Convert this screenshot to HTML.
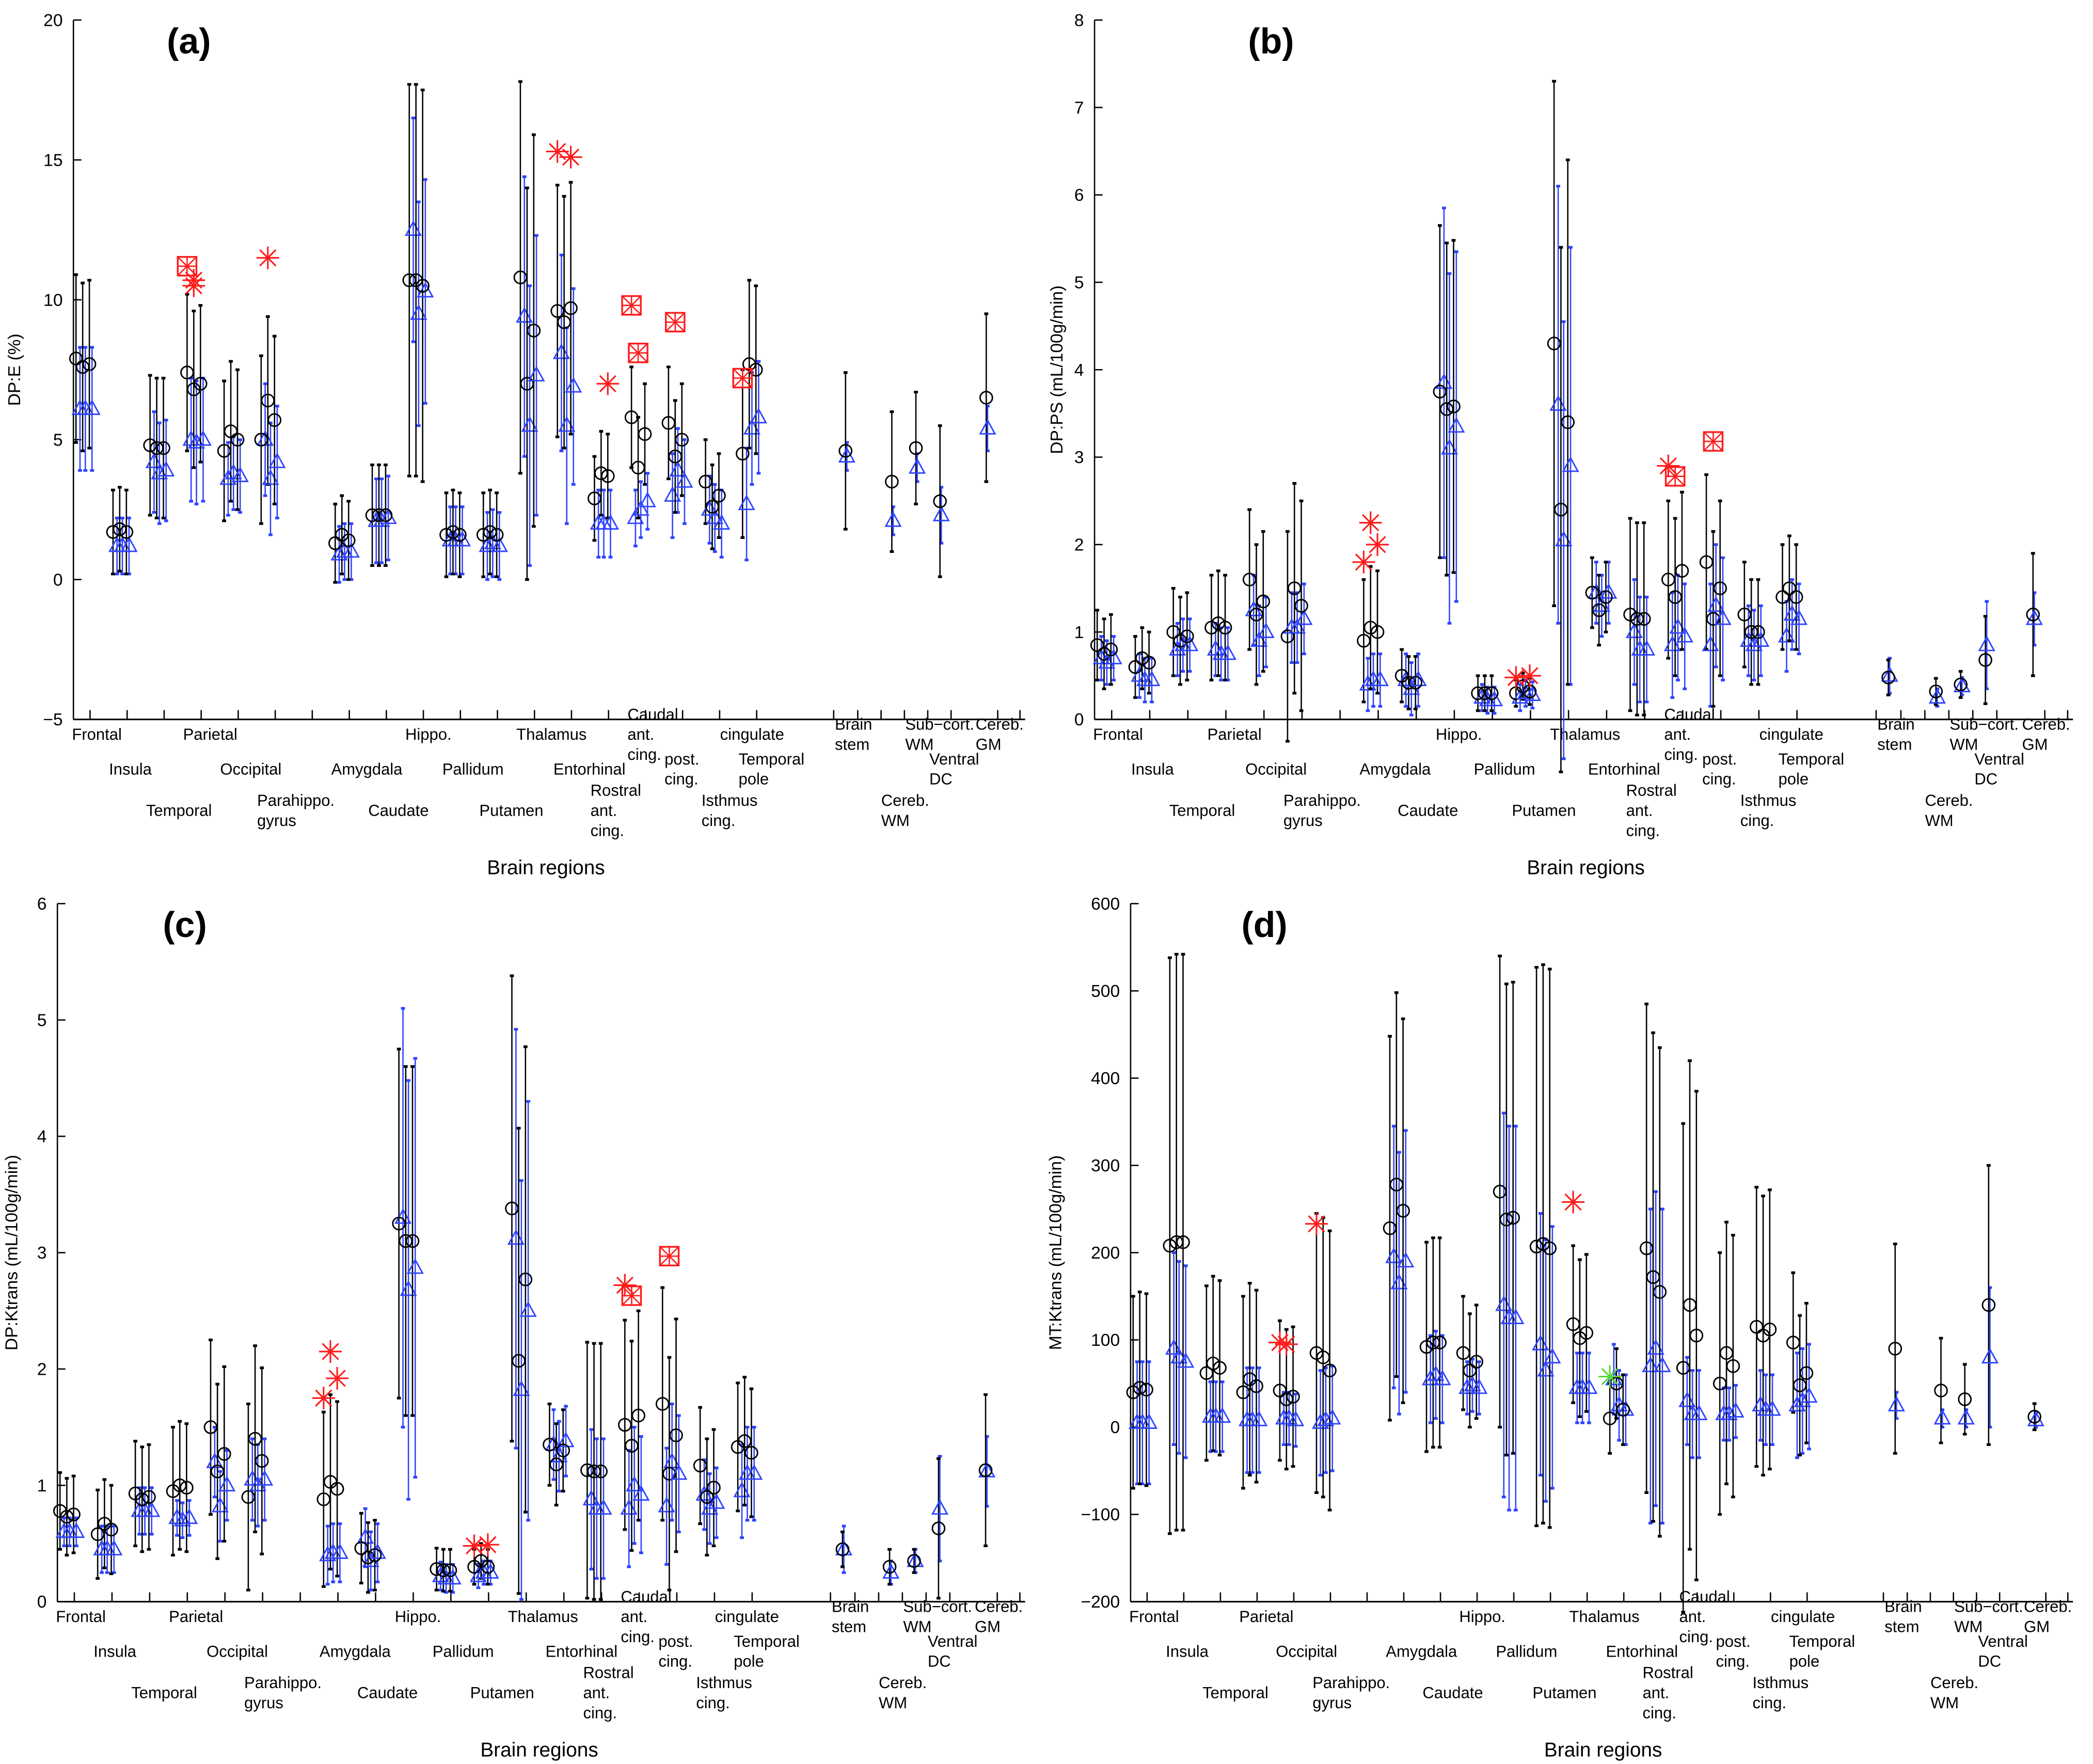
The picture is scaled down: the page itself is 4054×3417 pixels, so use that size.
<!DOCTYPE html>
<html><head><meta charset="utf-8"><style>
html,body{margin:0;padding:0;background:#fff}
svg{display:block}
text{font-family:"Liberation Sans",sans-serif}
</style></head><body>
<svg id="fig" xmlns="http://www.w3.org/2000/svg" width="4054" height="3417" viewBox="0 0 1568 1321.6"></svg>
<script>
const regions=["Frontal","Insula","Temporal","Parietal","Occipital","Parahippo","Amygdala","Caudate","Hippo","Pallidum","Putamen","Thalamus","Entorhinal","Rostral","Caudal","Post","Isthmus","TemporalPole","BrainStem","CerebWM","SubcortWM","VentralDC","CerebGM"];
const slots=[0,1,2,3,4,5,7,8,9,10,11,12,13,14,15,16,17,18,20.6,21.85,22.5,23.15,24.4];
const labelLines=[["Frontal"],["Insula"],["Temporal"],["Parietal"],["Occipital"],["Parahippo.","gyrus"],["Amygdala"],["Caudate"],["Hippo."],["Pallidum"],["Putamen"],["Thalamus"],["Entorhinal"],["Rostral","ant.","cing."],["Caudal","ant.","cing."],["post.","cing."],["Isthmus","cing."],["Temporal","pole"],["Brain","stem"],["Cereb.","WM"],["Sub\u2212cort.","WM"],["Ventral","DC"],["Cereb.","GM"]];
const labelRows=[0,1,2,0,1,2,1,2,0,1,2,0,1,2,0,1,2,1,0,2,0,1,0];
const tickSlots=[0.2,1.2,2.2,3.2,4.2,5.2,6.2,7.2,8.2,9.2,10.2,11.2,12.2,13.2,14.2,15.2,16.2,17.2,18.2,20.28,20.93,21.56,22.19,22.82,23.45,24.71,25.31];

// Panel (a) DP:E
const aCirc=[[7.9,7.6,7.7],[1.7,1.8,1.7],[4.8,4.7,4.7],[7.4,6.8,7.0],[4.6,5.3,5.0],[5.0,6.4,5.7],[1.3,1.6,1.4],[2.3,2.3,2.3],[10.7,10.7,10.5],[1.6,1.7,1.6],[1.6,1.7,1.6],[10.8,7.0,8.9],[9.6,9.2,9.7],[2.9,3.8,3.7],[5.8,4.0,5.2],[5.6,4.4,5.0],[3.5,2.6,3.0],[4.5,7.7,7.5],[4.6],[3.5],[4.7],[2.8],[6.5]];
const aTri=[[6.1,6.1,6.1],[1.2,1.2,1.2],[4.2,3.8,3.9],[5.0,4.9,5.0],[3.6,3.8,3.7],[5.0,3.6,4.2],[0.9,1.0,1.0],[2.1,2.1,2.2],[12.5,9.5,10.3],[1.4,1.4,1.4],[1.2,1.3,1.2],[9.4,5.5,7.3],[8.1,5.5,6.9],[2.0,2.0,2.0],[2.2,2.5,2.8],[3.0,3.9,3.5],[2.5,2.2,2.0],[2.7,5.4,5.8],[4.4],[2.1],[4.0],[2.3],[5.4]];
const aCircErr=[3,1.5,2.5,2.8,2.5,3,1.4,1.8,7,1.5,1.5,7,4.5,1.5,1.8,2,1.5,3,2.8,2.5,2,2.7,3];
const aTriErr=[2.2,1,1.8,2.2,1.3,2,1,1.5,4,1.2,1.2,5,3.5,1.2,1,1.5,1.2,2,0.5,0.5,0.5,1,0.8];
const aMarkRegion=[3,3,3,5,12,12,13,14,14,15,17];
const aMarkSubj=[0,1,1,1,0,2,2,0,1,1,0];
const aMarkVal=[11.2,10.5,10.7,11.5,15.3,15.1,7.0,9.8,8.1,9.2,7.2];
const aMarkType=["box","star","star","star","star","star","star","box","box","box","box"];

// Panel (b) DP:PS
const bCirc=[[0.85,0.75,0.8],[0.6,0.7,0.65],[1.0,0.9,0.95],[1.05,1.1,1.05],[1.6,1.2,1.35],[0.95,1.5,1.3],[0.9,1.05,1.0],[0.5,0.42,0.42],[3.75,3.55,3.58],[0.3,0.3,0.3],[0.3,0.38,0.32],[4.3,2.4,3.4],[1.45,1.25,1.4],[1.2,1.15,1.15],[1.6,1.4,1.7],[1.8,1.15,1.5],[1.2,1.0,1.0],[1.4,1.5,1.4],[0.48],[0.32],[0.4],[0.68],[1.2]];
const bTri=[[0.7,0.65,0.7],[0.5,0.45,0.45],[0.8,0.85,0.85],[0.8,0.75,0.75],[1.25,0.9,1.0],[1.05,1.05,1.15],[0.4,0.45,0.45],[0.45,0.35,0.45],[3.85,3.1,3.35],[0.25,0.22,0.22],[0.25,0.3,0.28],[3.6,2.05,2.9],[1.45,1.3,1.45],[1.0,0.8,0.8],[0.85,1.05,0.95],[0.85,1.3,1.15],[0.9,0.85,0.9],[0.95,1.2,1.15],[0.5],[0.25],[0.38],[0.85],[1.15]];
const bCircErr=[0.4,0.35,0.5,0.6,0.8,1.2,0.7,0.3,1.9,0.2,0.15,3,0.4,1.1,0.9,1,0.6,0.6,0.2,0.15,0.15,0.5,0.7];
const bTriErr=[0.25,0.25,0.3,0.3,0.4,0.4,0.3,0.3,2,0.15,0.15,2.5,0.35,0.6,0.6,0.7,0.4,0.4,0.2,0.1,0.1,0.5,0.3];
const bMarkRegion=[6,6,6,10,10,14,14,15];
const bMarkSubj=[0,1,2,0,2,0,1,1];
const bMarkVal=[1.8,2.25,2.0,0.48,0.5,2.9,2.78,3.18];
const bMarkType=["star","star","star","star","star","star","box","box"];

// Panel (c) DP:Ktrans
const cCirc=[[0.78,0.73,0.75],[0.58,0.67,0.62],[0.93,0.88,0.9],[0.95,1.0,0.98],[1.5,1.12,1.27],[0.9,1.4,1.21],[0.88,1.03,0.97],[0.46,0.38,0.4],[3.25,3.1,3.1],[0.28,0.27,0.27],[0.3,0.35,0.3],[3.38,2.07,2.77],[1.35,1.18,1.3],[1.13,1.12,1.12],[1.52,1.34,1.6],[1.7,1.1,1.43],[1.17,0.9,0.98],[1.33,1.38,1.28],[0.45],[0.3],[0.35],[0.63],[1.13]];
const cTri=[[0.6,0.6,0.6],[0.45,0.45,0.45],[0.78,0.78,0.78],[0.72,0.7,0.72],[1.2,0.82,1.0],[1.05,1.0,1.05],[0.4,0.42,0.42],[0.55,0.35,0.42],[3.3,2.68,2.87],[0.22,0.2,0.2],[0.22,0.25,0.25],[3.12,1.82,2.5],[1.35,1.25,1.38],[0.88,0.8,0.8],[0.8,1.0,0.92],[0.82,1.2,1.1],[0.92,0.8,0.85],[0.95,1.1,1.1],[0.45],[0.25],[0.35],[0.8],[1.12]];
const cCircErr=[0.33,0.38,0.45,0.55,0.75,0.8,0.75,0.3,1.5,0.18,0.15,2,0.35,1.1,0.9,1,0.5,0.55,0.15,0.15,0.1,0.6,0.65];
const cTriErr=[0.12,0.2,0.2,0.15,0.3,0.35,0.25,0.25,1.8,0.12,0.1,1.8,0.3,0.6,0.5,0.5,0.3,0.4,0.2,0.1,0.1,0.45,0.3];
const cMarkRegion=[6,6,6,10,10,14,14,15];
const cMarkSubj=[0,1,2,0,2,0,1,1];
const cMarkVal=[1.75,2.15,1.92,0.48,0.49,2.72,2.63,2.97];
const cMarkType=["star","star","star","star","star","star","box","box"];

// Panel (d) MT:Ktrans
const dCirc=[[40,45,43],[208,212,212],[62,73,68],[40,55,47],[42,32,35],[85,80,65],[228,278,248],[92,97,97],[85,65,75],[270,238,240],[207,210,205],[118,102,108],[10,50,20],[205,172,155],[68,140,105],[50,85,70],[115,105,112],[97,48,62],[90],[42],[32],[140],[12]];
const dTri=[[5,5,5],[90,80,75],[12,12,12],[8,8,8],[10,10,8],[5,8,10],[195,165,190],[55,60,55],[45,48,45],[140,125,125],[95,65,80],[45,45,45],[55,25,20],[70,90,70],[30,15,15],[15,15,18],[25,20,20],[25,30,35],[25],[10],[10],[80],[8]];
const dCircErr=[110,330,100,110,80,160,220,120,65,270,320,90,40,280,280,150,160,80,120,60,40,160,15];
const dTriErr=[70,110,40,60,30,60,150,50,30,220,150,40,40,180,50,30,40,60,15,10,10,80,8];
const dMarkRegion=[4,4,5,11,12];
const dMarkSubj=[0,1,0,0,0];
const dMarkVal=[97,95,233,258,58];
const dMarkType=["star","star","star","star","gstar"];

const NS="http://www.w3.org/2000/svg";
const svg=document.getElementById("fig");
function el(tag,attrs,parent){const e=document.createElementNS(NS,tag);for(const k in attrs)e.setAttribute(k,attrs[k]);(parent||svg).appendChild(e);return e;}
const BLUE="#2e44ff",RED="#ff1a1a",GREEN="#5ad43a";

const panels=[
 {id:"a",left:55,right:768,top:15,bottom:539,ymin:-5,ymax:20,yticks:[-5,0,5,10,15,20],ytitle:"DP:E (%)",ytx:15,letter:"(a)",lx:125,ly:40,xt:409,xty:650,circ:aCirc,tri:aTri,ce:aCircErr,te:aTriErr,mr:aMarkRegion,ms:aMarkSubj,mv:aMarkVal,mt:aMarkType},
 {id:"b",left:820,right:1553,top:15,bottom:539,ymin:0,ymax:8,yticks:[0,1,2,3,4,5,6,7,8],ytitle:"DP:PS (mL/100g/min)",ytx:796,letter:"(b)",lx:935,ly:40,xt:1188,xty:650,circ:bCirc,tri:bTri,ce:bCircErr,te:bTriErr,mr:bMarkRegion,ms:bMarkSubj,mv:bMarkVal,mt:bMarkType},
 {id:"c",left:43,right:768,top:677,bottom:1200,ymin:0,ymax:6,yticks:[0,1,2,3,4,5,6],ytitle:"DP:Ktrans (mL/100g/min)",ytx:13,letter:"(c)",lx:122,ly:702,xt:404,xty:1311,circ:cCirc,tri:cTri,ce:cCircErr,te:cTriErr,mr:cMarkRegion,ms:cMarkSubj,mv:cMarkVal,mt:cMarkType},
 {id:"d",left:847,right:1553,top:677,bottom:1200,ymin:-200,ymax:600,yticks:[-200,-100,0,100,200,300,400,500,600],ytitle:"MT:Ktrans (mL/100g/min)",ytx:795,letter:"(d)",lx:930,ly:702,xt:1201,xty:1311,circ:dCirc,tri:dTri,ce:dCircErr,te:dTriErr,mr:dMarkRegion,ms:dMarkSubj,mv:dMarkVal,mt:dMarkType}
];

function errbar(g,x,y1,y2,color){
  el("line",{x1:x,y1:y1,x2:x,y2:y2,stroke:color,"stroke-width":1},g);
  el("line",{x1:x-1.5,y1:y1,x2:x+1.5,y2:y1,stroke:color,"stroke-width":2},g);
  el("line",{x1:x-1.5,y1:y2,x2:x+1.5,y2:y2,stroke:color,"stroke-width":2},g);
}
function star(g,x,y,color){
  const r=8.5;
  for(let k=0;k<4;k++){const a=k*Math.PI/4;el("line",{x1:x-r*Math.cos(a),y1:y-r*Math.sin(a),x2:x+r*Math.cos(a),y2:y+r*Math.sin(a),stroke:color,"stroke-width":1.2},g);}
}
function boxm(g,x,y){
  const h=7;
  el("rect",{x:x-h,y:y-h,width:2*h,height:2*h,fill:"none",stroke:RED,"stroke-width":1.3},g);
  el("line",{x1:x-h,y1:y-h,x2:x+h,y2:y+h,stroke:RED,"stroke-width":1},g);
  el("line",{x1:x-h,y1:y+h,x2:x+h,y2:y-h,stroke:RED,"stroke-width":1},g);
  el("line",{x1:x-h,y1:y,x2:x+h,y2:y,stroke:RED,"stroke-width":1},g);
  el("line",{x1:x,y1:y-h,x2:x,y2:y+h,stroke:RED,"stroke-width":1},g);
}

panels.forEach(p=>{
  const g=el("g",{});
  
  
  const u=(p.right-p.left)/25.7;
  const k=u/27.7;
  const X=s=>p.left+u*(0.25+s);
  const Y=v=>p.bottom-(v-p.ymin)/(p.ymax-p.ymin)*(p.bottom-p.top);
  // axes
  const ax=el("g",{},g);
  
  
  el("line",{x1:p.left,y1:p.top,x2:p.left,y2:p.bottom,stroke:"#000","stroke-width":1},ax);
  el("line",{x1:p.left,y1:p.bottom,x2:p.right,y2:p.bottom,stroke:"#000","stroke-width":1.2},ax);
  p.yticks.forEach(t=>{
    const y=Y(t);
    el("line",{x1:p.left,y1:y,x2:p.left+6,y2:y,stroke:"#000","stroke-width":1},ax);
    const tx=el("text",{x:p.left-8,y:y+4.5,"font-size":13,"text-anchor":"end",fill:"#000"},ax);
    tx.textContent=String(t).replace("-","\u2212");
    
    
  });
  tickSlots.forEach(s=>{
    const x=X(s);
    el("line",{x1:x,y1:p.bottom,x2:x,y2:p.bottom-7,stroke:"#000","stroke-width":1},ax);
  });
  // x labels
  const rowCenter=[11,37,68];
  regions.forEach((r,i)=>{
    const lines=labelLines[i];
    const cy=p.bottom+rowCenter[labelRows[i]];
    const start=X(slots[i])-8*k;
    const t=el("text",{x:start,y:0,"font-size":12,fill:"#000"},g);
    
    
    lines.forEach((ln,j)=>{
      const ts=el("tspan",{x:start,y:cy-(lines.length-1)*7.5+j*15+4.3},t);
      ts.textContent=ln;
    });
  });
  const cg=el("text",{x:X(17.5)-8*k,y:p.bottom+15.3,"font-size":12,fill:"#000"},g);
  cg.textContent="cingulate";
  
  
  // titles
  const yt=el("text",{x:p.ytx,y:(p.top+p.bottom)/2,"font-size":13,"text-anchor":"middle",transform:"rotate(-90 "+p.ytx+" "+((p.top+p.bottom)/2)+")",fill:"#000"},g);
  yt.textContent=p.ytitle;
  
  
  const xt=el("text",{x:p.xt,y:p.xty+5,"font-size":15,"text-anchor":"middle",fill:"#000"},g);
  xt.textContent="Brain regions";
  
  
  const lt=el("text",{x:p.lx,y:p.ly,"font-size":27,"font-weight":"bold",fill:"#000"},g);
  lt.textContent=p.letter;
  
  
  // data
  const offC=[-5*k,0,5*k],offT=[-2*k,2*k,7*k];
  regions.forEach((r,i)=>{
    const cx=X(slots[i]);
    const n=p.circ[i].length;
    for(let s=0;s<n;s++){
      const xc=n===1?cx:cx+offC[s];
      const xtv=n===1?cx+1:cx+offT[s];
      const tv=p.tri[i][s], cv=p.circ[i][s];
      errbar(g,xtv,Y(tv+p.te[i]),Y(tv-p.te[i]),BLUE);
      errbar(g,xc,Y(cv+p.ce[i]),Y(cv-p.ce[i]),"#000");
      const ty=Y(tv);
      const tri=el("polygon",{points:(xtv-5.5)+","+(ty+4)+" "+(xtv+5.5)+","+(ty+4)+" "+xtv+","+(ty-6),fill:"none",stroke:BLUE,"stroke-width":1.1},g);
      
      
      const c=el("circle",{cx:xc,cy:Y(cv),r:4.6,fill:"none",stroke:"#000","stroke-width":1.1},g);
      
      
    }
  });
  p.mr.forEach((ri,j)=>{
    const x=X(slots[ri])+offC[p.ms[j]];
    const y=Y(p.mv[j]);
    const mg=el("g",{},g);
    
    
    if(p.mt[j]==="box")boxm(mg,x,y);
    else star(mg,x,y,p.mt[j]==="gstar"?GREEN:RED);
  });
});
</script>
</body></html>
